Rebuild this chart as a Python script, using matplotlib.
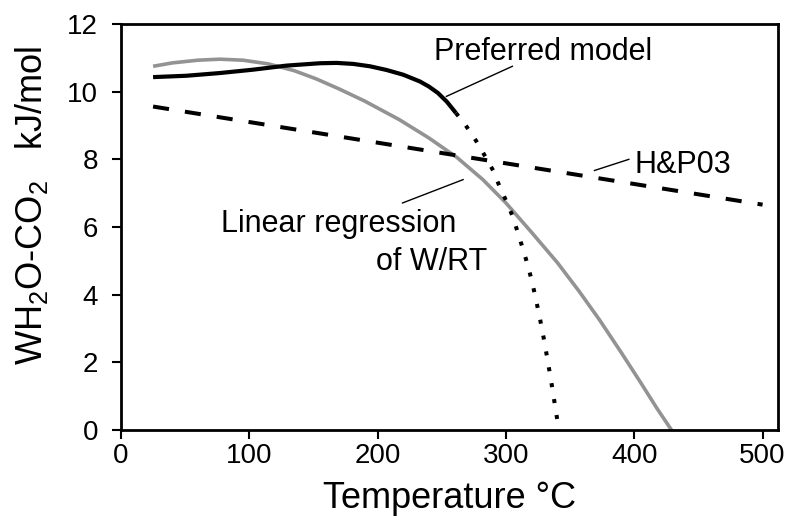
import matplotlib
matplotlib.use("Agg")
import matplotlib.pyplot as plt

plt.rcParams['font.family'] = ['Liberation Sans', 'DejaVu Sans']
plt.rcParams['mathtext.default'] = 'regular'

# preferred model (solid part, then dotted extrapolation)
t_pref = [25, 51, 77, 103, 129, 155, 168, 181, 194, 207, 220, 233, 240, 247, 254, 261]
w_pref = [10.43, 10.47, 10.55, 10.65, 10.77, 10.84, 10.85, 10.82, 10.75, 10.64,
          10.5, 10.3, 10.15, 9.96, 9.7, 9.37]
t_extr = [261, 268.7, 276.5, 283, 290, 295, 300.4, 305.5, 309.5, 313.4, 317.3,
          320.6, 323.7, 326.2, 330, 335, 340]
w_extr = [9.37, 9.0, 8.56, 8.14, 7.67, 7.2, 6.75, 6.29, 5.8, 5.33, 4.83,
          4.34, 3.8, 3.35, 2.6, 1.5, 0.3]

# linear regression of W/RT
t_reg = [25, 40, 60, 77, 95, 115, 135, 152, 170, 190, 217, 240, 262, 282, 300,
         320, 340, 357, 373, 390, 405, 418, 429]
w_reg = [10.75, 10.85, 10.93, 10.96, 10.93, 10.82, 10.62, 10.38, 10.08, 9.72,
         9.17, 8.63, 8.05, 7.40, 6.71, 5.84, 4.95, 4.10, 3.25, 2.28, 1.40, 0.62, 0.0]

# H&P03
t_hp = [25, 500]
w_hp = [9.56, 6.66]

fig = plt.figure(figsize=(7.95, 5.25), dpi=100)
ax = fig.add_axes([0.1522, 0.181, 0.8264, 0.7733])

ax.plot(t_reg, w_reg, color='#939393', lw=2.6, solid_capstyle='butt')
ax.plot(t_hp, w_hp, color='black', lw=2.9, linestyle=(0, (4, 4)), dash_capstyle='butt')
ax.plot(t_pref, w_pref, color='black', lw=3, solid_capstyle='butt')
ax.plot(t_extr, w_extr, color='black', lw=2.9, linestyle=(0, (1, 3)), dash_capstyle='butt')

# labels with leader lines
ax.plot([253.6, 305], [9.86, 10.75], color='black', lw=1)
ax.text(243.8, 10.95, 'Preferred model', fontsize=22, ha='left', va='baseline')

ax.plot([369, 395.8], [7.67, 8.0], color='black', lw=1)
ax.text(400.3, 7.61, 'H&P03', fontsize=22, ha='left', va='baseline')

ax.plot([219.4, 266.6], [6.71, 7.40], color='black', lw=1)
ax.text(77.9, 5.86, 'Linear regression', fontsize=22, ha='left', va='baseline')
ax.text(198.6, 4.73, 'of W/RT', fontsize=22, ha='left', va='baseline')

ax.set_xlim(0, 512)
ax.set_ylim(0, 12)
ax.set_xticks([0, 100, 200, 300, 400, 500])
ax.set_yticks([0, 2, 4, 6, 8, 10, 12])

for s in ax.spines.values():
    s.set_linewidth(2)
ax.tick_params(axis='both', direction='out', length=6.5, width=1.5, labelsize=20)
ax.tick_params(axis='x', pad=3)
ax.tick_params(axis='y', pad=10)

ax.set_xlabel('Temperature °C', fontsize=26)
ax.set_ylabel('WH$_2$O-CO$_2$   kJ/mol', fontsize=26)
ax.xaxis.set_label_coords(0.5, -0.125)
ax.yaxis.set_label_coords(-0.108, 0.554)

fig.savefig('out.png', dpi=100)
